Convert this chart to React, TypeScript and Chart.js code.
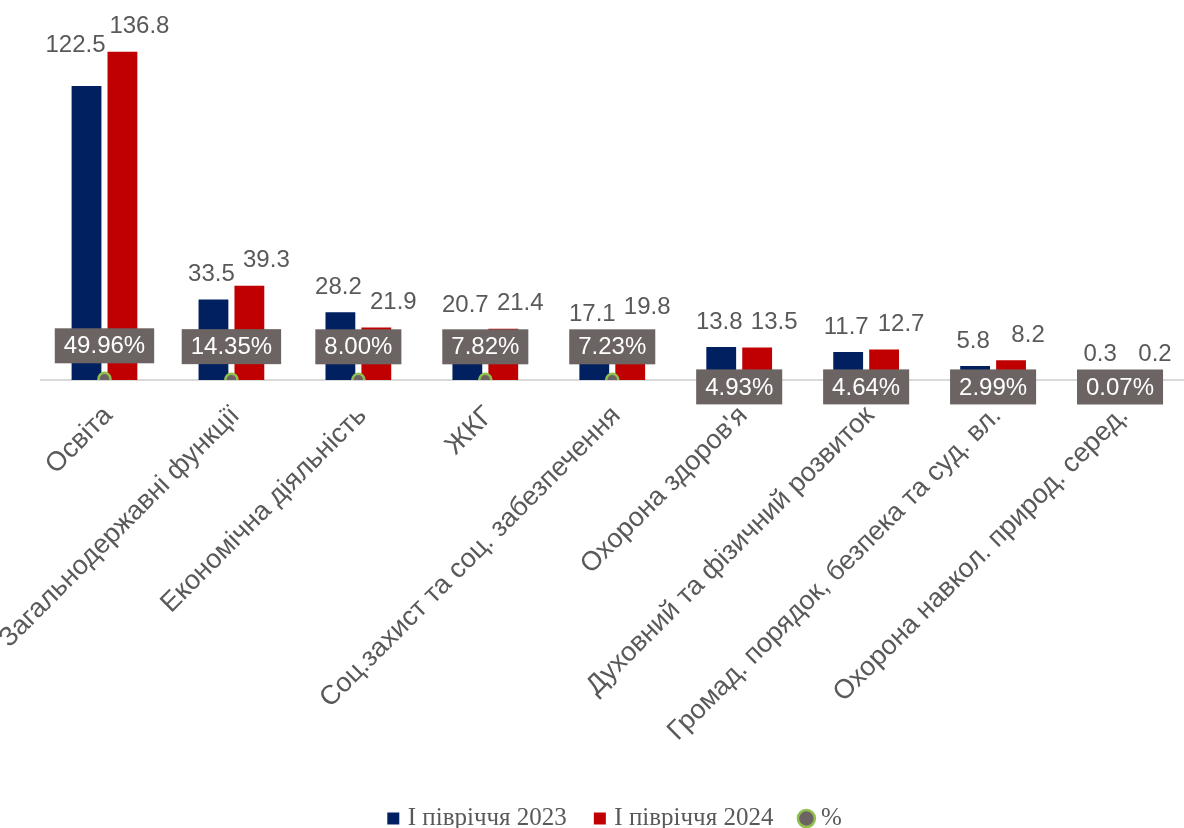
import React, { useEffect, useRef } from "react";
import { Chart, registerables } from "chart.js";

Chart.register(...registerables);

const categories = [
  "Освіта",
  "Загальнодержавні функції",
  "Економічна діяльність",
  "ЖКГ",
  "Соц.захист та соц. забезпечення",
  "Охорона здоров'я",
  "Духовний та фізичний розвиток",
  "Громад. порядок, безпека та суд. вл.",
  "Охорона навкол. природ. серед.",
];
const values2023 = [122.5, 33.5, 28.2, 20.7, 17.1, 13.8, 11.7, 5.8, 0.3];
const values2024 = [136.8, 39.3, 21.9, 21.4, 19.8, 13.5, 12.7, 8.2, 0.2];
const shares = [0.4996, 0.1435, 0.08, 0.0782, 0.0723, 0.0493, 0.0464, 0.0299, 0.0007];
const seriesNames = ["І півріччя 2023", "І півріччя 2024", "%"];

const SANS = "'Liberation Sans', Arial, sans-serif";
const GREY = "#595959";
const BOX = "#6b6462";

const labelPlugin = {
  id: "valueLabels",
  afterDatasetsDraw(chart: any) {
    const ctx = chart.ctx;
    ctx.save();
    ctx.font = `24px ${SANS}`;
    ctx.textAlign = "center";
    ctx.textBaseline = "middle";
    const m0 = chart.getDatasetMeta(0);
    const m1 = chart.getDatasetMeta(1);
    m0.data.forEach((el: any, i: number) => {
      const txt = (values2023[i] as number).toFixed(1);
      const w = ctx.measureText(txt).width;
      const other = m1.data[i];
      const otherLeft = other.x - other.width / 2;
      let cx = el.x - 2;
      let cy = el.y - 25;
      if (cx + w / 2 > otherLeft + 4) {
        cx = otherLeft - 2 - w / 2;
        cy -= 16;
      }
      ctx.fillStyle = GREY;
      ctx.fillText(txt, cx, cy);
    });
    m1.data.forEach((el: any, i: number) => {
      const txt = (values2024[i] as number).toFixed(1);
      ctx.fillStyle = GREY;
      ctx.fillText(txt, el.x + 17, el.y - 25);
    });
    const pm = chart.getDatasetMeta(2);
    pm.data.forEach((el: any, i: number) => {
      const v = shares[i];
      const txt = (v * 100).toFixed(2) + "%";
      const w = ctx.measureText(txt).width + 18;
      const h = 35;
      const cy = v >= 0.05 ? el.y - 33 : el.y + 7;
      ctx.fillStyle = BOX;
      ctx.fillRect(el.x - w / 2, cy - h / 2, w, h);
      ctx.fillStyle = "#ffffff";
      ctx.fillText(txt, el.x, cy + 1);
    });
    ctx.restore();
  },
};

export default function App() {
  const ref = useRef<HTMLCanvasElement | null>(null);
  useEffect(() => {
    if (!ref.current) return;
    const chart = new Chart(ref.current, {
      type: "bar",
      data: {
        labels: categories,
        datasets: [
          {
            type: "bar",
            label: seriesNames[0],
            data: values2023,
            backgroundColor: "#002060",
            borderWidth: 0,
            categoryPercentage: 0.566,
            barPercentage: 0.83,
          },
          {
            type: "bar",
            label: seriesNames[1],
            data: values2024,
            backgroundColor: "#c00000",
            borderWidth: 0,
            categoryPercentage: 0.566,
            barPercentage: 0.83,
          },
          {
            type: "line",
            label: seriesNames[2],
            data: shares,
            showLine: false,
            order: -1,
            pointRadius: 6,
            pointBorderWidth: 2.5,
            pointBackgroundColor: BOX,
            pointBorderColor: "#92c04f",
            backgroundColor: BOX,
            borderColor: "#92c04f",
          },
        ] as any,
      },
      options: {
        responsive: false,
        animation: false,
        layout: { padding: { left: 41, top: 20, right: 0, bottom: -13 } },
        plugins: {
          tooltip: { enabled: false },
          legend: {
            position: "bottom",
            labels: {
              usePointStyle: true,
              boxWidth: 4,
              boxHeight: 12,
              padding: 31,
              color: GREY,
              font: { family: "'Liberation Serif', 'DejaVu Serif', serif", size: 25 },
              generateLabels: (chart: any) => {
                const items = Chart.defaults.plugins.legend.labels.generateLabels(chart);
                items.sort((a: any, b: any) => a.datasetIndex - b.datasetIndex);
                items.forEach((it: any) => {
                  it.pointStyle = it.datasetIndex < 2 ? "rect" : "circle";
                });
                return items;
              },
            },
          },
        },
        scales: {
          x: {
            grid: { display: false, drawTicks: false },
            border: { display: true, color: "#d9d9d9", width: 2 },
            ticks: {
              autoSkip: false,
              minRotation: 45,
              maxRotation: 45,
              padding: 20,
              labelOffset: 4,
              color: GREY,
              font: { family: SANS, size: 27 },
            },
            afterFit: (s: any) => {
              s.height = 395;
              s.paddingLeft = 0;
              s.paddingRight = 0;
            },
          },
          y: { display: false, min: 0, max: 150 },
        },
      } as any,
      plugins: [labelPlugin],
    });
    return () => chart.destroy();
  }, []);
  return (
    <div style={{ position: "fixed", left: 0, top: 0, width: 1184, height: 828, background: "#fff", overflow: "hidden" }}>
      <canvas ref={ref} width={1192} height={828} />
    </div>
  );
}
